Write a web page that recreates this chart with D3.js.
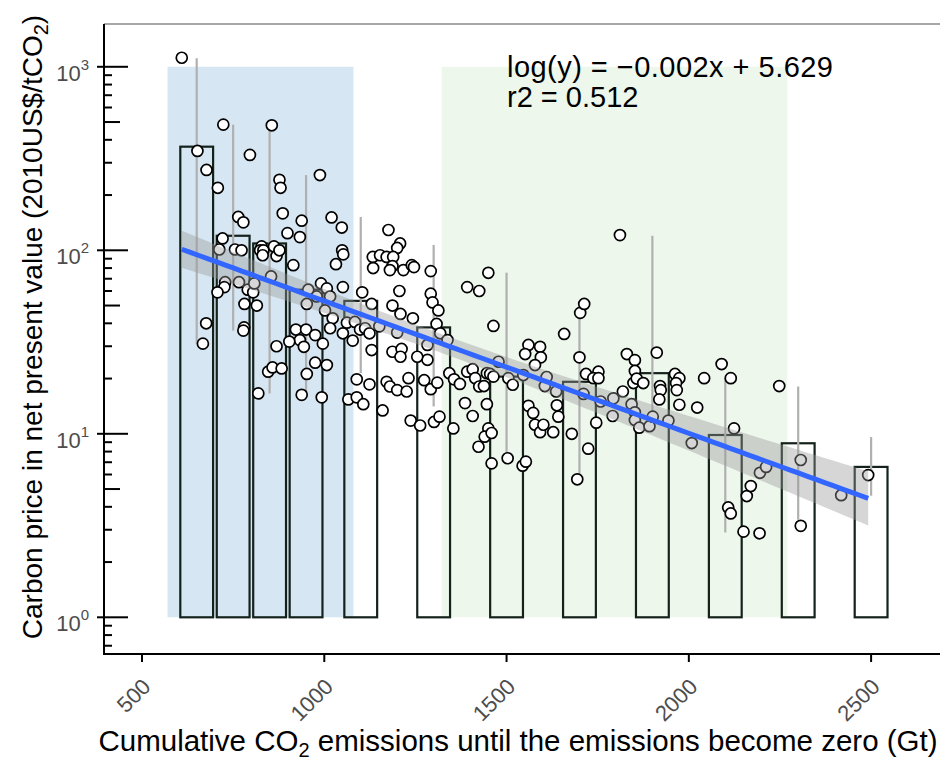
<!DOCTYPE html>
<html><head><meta charset="utf-8">
<script src="https://cdn.jsdelivr.net/npm/d3@7"></script>
<style>body{margin:0;background:#fff}svg{display:block}</style>
</head><body>
<svg id="c" width="940" height="760"></svg>
<script>
// ---- data ----
const pointsX = [609,652,677,708,723,796,856,877,880,764,778,886,938,899,933,721,712,755,773,828,824,833,831,862,869,877,988,1020,1048,1049,1052,1032,915,854,728,726,707,766,790,805,808,781,815,991,1007,1016,1051,956,952,979,676,667,780,778,922,950,975,933,904,944,869,996,1002,1023,1016,1051,1062,1084,1078,1098,1112,1124,1151,846,858,883,952,819,938,993,975,1007,1089,1066,1089,1176,1208,1200,1133,1153,1171,1189,1134,1187,1217,1240,1246,1180,1292,1104,1130,1206,1187,1209,1243,1292,1297,1313,1200,1130,1187,1212,1209,1308,1318,1283,1283,1255,1338,1124,1107,1171,1180,1200,1226,1231,1160,1237,1263,1274,1292,1310,1301,1316,1343,1356,1372,1392,1407,1414,1425,1438,1446,1354,1386,1407,1392,1425,1450,1464,1478,1455,1464,1505,1517,1546,1446,1450,1440,1459,1423,1459,1503,1544,1553,1560,1592,1551,1594,1578,1658,1702,1713,1700,1560,1573,1578,1592,1601,1628,1610,1605,1638,1642,1636,1679,1724,1694,1718,1752,1738,1752,1746,1711,1758,1793,1791,1819,1830,1852,1852,1848,1857,1875,1843,1852,1852,1864,1892,1901,1811,1912,1921,1923,1919,1944,1962,1974,1965,1967,1974,2042,2023,2008,2090,2115,2124,2108,2115,2150,2194,2159,2170,2195,2212,2248,2307,2307,2418,2492];
const pointsY = [1120,348,274,219,484,331,480,242,219,152,142,159,145,124,118,116,101,101,100,105,100,100,94,105,93,100,257,151,133,100,95,84,83,72,67,63,59,67,61,59,66,51,50,66,62,56,63,61,51,56,40,31,38,36.5,37,37,34.5,32.4,31.8,29.8,30,31,47,42.6,37.6,35.3,40.3,40.7,32.2,37,37.6,35.3,38.5,21.8,23,22.7,21.2,16.6,16.3,15.8,24.4,23.7,19.8,15.4,15.8,129,109,103,92,94,92,92,80,82,78,83,81,78,77,59,51,60,50,45,42.6,58,52,47,35.6,28.6,28,29,26.3,39.7,35.3,30.5,25.3,26.3,32.4,18.6,14.5,19.2,18.1,17.3,17,20.1,13.4,11.8,11.1,19.6,17.5,19,11.6,12.4,21.4,19.8,18.7,21.8,22.5,20.1,18.1,18.2,21.4,10.7,14.7,12.5,63,60,75.4,38.7,24.7,21.2,20.5,20.1,18.5,20.9,14.5,10.7,9.65,10.1,8.5,6.9,7.36,6.7,7.05,30.5,29.8,27.2,26.1,23.7,35,45.6,51,26.1,14.2,13,11.2,10.2,11.2,10.2,20.4,18.2,14.3,12.4,17,10,8.3,5.65,21.2,21.8,20.1,20.1,11.5,16.5,15,15.6,12.5,17,27.2,25.2,22,18.9,20,18.9,14.5,13.1,11.9,10.8,11,12.4,121,27.7,18.2,17.3,15.4,11.8,21.2,20.1,18.9,17.3,14.4,20.1,13.9,8.9,24,20.1,10.7,3.97,3.68,2.93,2.87,4.58,5.19,6.13,6.6,18.2,7.2,3.15,4.63,5.96];

const binCenters = [650,750,850,950,1100,1300,1500,1700,1900,2100,2300,2500];
const binMeans   = [367,120,109,61,53,38,20.5,19.2,21.4,9.85,8.88,6.6];
const binLow     = [31,36.5,16.6,15.8,21.4,14.1,7.35,5.6,13,2.9,3.4,4.6];
const binHigh    = [1114,484,480,257,152,107,75.5,45.6,120,20.1,18.1,9.6];
const binWidth = 90;

const regionStart = [570,1322];
const regionEnd   = [1080,2270];
const regionColor = ["#d6e6f2","#edf7ec"];
const regionTop = 1000, regionBottom = 1;

const xTicks = [500,1000,1500,2000,2500];
const yMajor = [1,10,100,1000];
const yMajorExp = ["0","1","2","3"];

const fitIntercept = 5.629;   // ln(y) = a + b x
const fitSlope = -0.00166;
const bandQuantile = 2.6;
const eqLine1 = "log(y) = \u22120.002x + 5.629";
const eqLine2 = "r2 = 0.512";

// ---- scales ----
const svg = d3.select("#c");
const L = 104, R = 940, T = 24, B = 654;
const x = d3.scaleLinear().domain([395.7, 2689]).range([L, R]);
const y = d3.scaleLog().domain([Math.pow(10,-0.2), Math.pow(10,3.2332)]).range([B, T]);

// regions
svg.append("g").selectAll("rect").data(regionStart).join("rect")
  .attr("x", (d,i)=>x(d)).attr("width",(d,i)=>x(regionEnd[i])-x(d))
  .attr("y", y(regionTop)).attr("height", y(regionBottom)-y(regionTop))
  .attr("fill",(d,i)=>regionColor[i]);

// bars
svg.append("g").selectAll("rect").data(binCenters).join("rect")
  .attr("x", d=>x(d-binWidth/2)).attr("width", d=>x(d+binWidth/2)-x(d-binWidth/2))
  .attr("y",(d,i)=>y(binMeans[i])).attr("height",(d,i)=>y(1)-y(binMeans[i]))
  .attr("fill","none").attr("stroke","#15221c").attr("stroke-width",2.2);

// range lines
svg.append("g").selectAll("line").data(binCenters).join("line")
  .attr("x1",d=>x(d)).attr("x2",d=>x(d))
  .attr("y1",(d,i)=>y(binLow[i])).attr("y2",(d,i)=>y(binHigh[i]))
  .attr("stroke","#b0b0b0").attr("stroke-width",2.2);

// points
svg.append("g").selectAll("circle").data(pointsX).join("circle")
  .attr("cx",d=>x(d)).attr("cy",(d,i)=>y(pointsY[i])).attr("r",5.5)
  .attr("fill","#fff").attr("stroke","#000").attr("stroke-width",1.7);

// regression band from data residuals
const n = pointsX.length;
const xm = d3.mean(pointsX);
const sxx = d3.sum(pointsX, v=>(v-xm)*(v-xm));
const resid = pointsX.map((v,i)=>Math.log(pointsY[i]) - (fitIntercept + fitSlope*v));
const s = Math.sqrt(d3.sum(resid, r=>r*r)/(n-2));
const x0 = d3.min(pointsX), x1 = d3.max(pointsX);
const grid = d3.range(0, 81).map(k => x0 + (x1-x0)*k/80);
const band = grid.map(v=>{
  const f = fitIntercept + fitSlope*v;
  const hw = bandQuantile*s*Math.sqrt(1/n + (v-xm)*(v-xm)/sxx);
  return {x:v, lo:Math.exp(f-hw), hi:Math.exp(f+hw), f:Math.exp(f)};
});
svg.append("path").datum(band)
  .attr("d", d3.area().x(d=>x(d.x)).y0(d=>y(d.lo)).y1(d=>y(d.hi)))
  .attr("fill","#999").attr("fill-opacity",0.4);
svg.append("path").datum(band)
  .attr("d", d3.line().x(d=>x(d.x)).y(d=>y(d.f)))
  .attr("fill","none").attr("stroke","#3366ff").attr("stroke-width",5);

// top border
svg.append("line").attr("x1",L).attr("x2",R).attr("y1",T).attr("y2",T)
  .attr("stroke","#8a8a8a").attr("stroke-width",1.6);

// axes lines
svg.append("line").attr("x1",L).attr("x2",L).attr("y1",T).attr("y2",B+1)
  .attr("stroke","#000").attr("stroke-width",2);
svg.append("line").attr("x1",L-1).attr("x2",R).attr("y1",B).attr("y2",B)
  .attr("stroke","#000").attr("stroke-width",2);

// y log ticks
const minor = [];
[0.1,1,10,100,1000].forEach(dec=>{ for(let k=2;k<=9;k++){ const v=k*dec; if(v>=y.domain()[0] && v<=y.domain()[1]) minor.push(v);} });
const gy = svg.append("g");
gy.selectAll("line.mn").data(minor).join("line").attr("class","mn")
  .attr("x1",L).attr("x2",d=>L + (Math.abs(d/Math.pow(10,Math.floor(Math.log10(d)+1e-9))-5)<1e-6 ? 16 : 8))
  .attr("y1",d=>y(d)).attr("y2",d=>y(d)).attr("stroke","#000").attr("stroke-width",2);
gy.selectAll("line.mj").data(yMajor).join("line").attr("class","mj")
  .attr("x1",L-7).attr("x2",L+24).attr("y1",d=>y(d)).attr("y2",d=>y(d))
  .attr("stroke","#000").attr("stroke-width",2);
const yl = gy.selectAll("text").data(yMajor).join("text")
  .attr("x",89).attr("y",d=>y(d)+14).attr("text-anchor","end")
  .attr("font-family","Liberation Sans, Arial, sans-serif").attr("font-size",22).attr("fill","#4d4d4d");
yl.append("tspan").text("10");
yl.append("tspan").attr("dy",-11).attr("font-size",15).text((d,i)=>yMajorExp[i]);

// x ticks
const gx = svg.append("g");
gx.selectAll("line").data(xTicks).join("line")
  .attr("x1",d=>x(d)).attr("x2",d=>x(d)).attr("y1",B).attr("y2",B+8)
  .attr("stroke","#000").attr("stroke-width",2);
gx.selectAll("text").data(xTicks).join("text")
  .attr("transform",d=>`translate(${x(d)+10},688) rotate(-45)`)
  .attr("text-anchor","end")
  .attr("font-family","Liberation Sans, Arial, sans-serif").attr("font-size",22).attr("fill","#4d4d4d")
  .text(d=>d);

// titles
const xt = svg.append("text").attr("x",518).attr("y",751).attr("text-anchor","middle")
  .attr("font-family","Liberation Sans, Arial, sans-serif").attr("font-size",29.5).attr("fill","#000");
xt.append("tspan").text("Cumulative CO");
xt.append("tspan").attr("font-size",20).attr("dy",6).text("2");
xt.append("tspan").attr("dy",-6).text(" emissions until the emissions become zero (Gt)");

const yt = svg.append("text").attr("transform","translate(42,327) rotate(-90)").attr("text-anchor","middle")
  .attr("font-family","Liberation Sans, Arial, sans-serif").attr("font-size",28).attr("fill","#000");
yt.append("tspan").text("Carbon price in net present value (2010US$/tCO");
yt.append("tspan").attr("font-size",20).attr("dy",6).text("2");
yt.append("tspan").attr("dy",-6).text(")");

// equation
const eq = svg.append("g").attr("font-family","Liberation Sans, Arial, sans-serif").attr("font-size",29).attr("fill","#000");
eq.append("text").attr("x",507).attr("y",77).attr("textLength",326).attr("lengthAdjust","spacing").text(eqLine1);
eq.append("text").attr("x",507).attr("y",107).text(eqLine2);
</script>
</body></html>
